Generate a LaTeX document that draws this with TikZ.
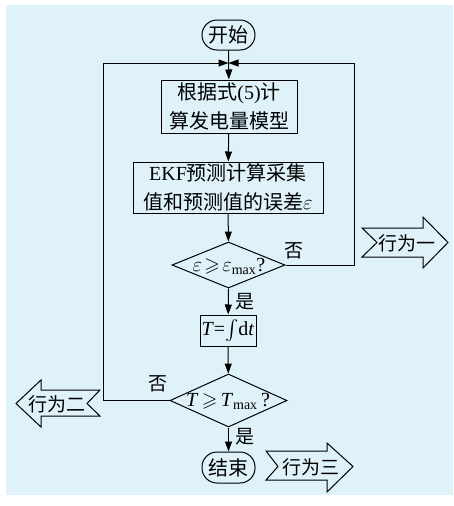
\documentclass[tikz,border=0pt]{standalone}
\usepackage{amssymb}
\usepackage{fontspec}
\setmainfont{Liberation Serif}
\newfontfamily\cjk{Noto Sans CJK SC}
\usetikzlibrary{shapes.geometric,arrows.meta}
\definecolor{bgblue}{RGB}{223,242,250}
\tikzset{
  ln/.style={line width=1pt},
  arr/.style={ln,-{Triangle[length=10pt,width=7pt]}},
  proc/.style={draw,ln,fill=bgblue,inner sep=0pt,align=center,font=\fontsize{20}{29}\selectfont},
  term/.style={proc,rounded corners=15pt},
  dia/.style={draw,ln,diamond,inner sep=0pt},
  txt/.style={inner sep=0pt,font=\fontsize{20}{24}\selectfont},
  lab/.style={inner sep=0pt,font=\fontsize{19}{22}\selectfont\cjk},
  blk/.style={draw,line width=1pt,fill=bgblue,line join=miter}
}
\begin{document}
\begin{tikzpicture}[x=1pt,y=-1pt]
\useasboundingbox (0,0) rectangle (453,506);
\fill[white] (0,0) rectangle (453,506);
\fill[bgblue] (6,5) rectangle (453,495);
% nodes
\node[term,minimum width=53pt,minimum height=30pt] (start) at (228.5,35) {\cjk 开始};
\node[proc,minimum width=136pt,minimum height=53pt] (b1) at (229,106.5) {{\cjk 根据式}(5){\cjk 计}\\{\cjk 算发电量模型}};
\node[proc,minimum width=190pt,minimum height=51pt] (b2) at (228,187.5) {EKF{\cjk 预测计算采集}\\{\cjk 值和预测值的误差}$\varepsilon$};
\node[dia,minimum width=113pt,minimum height=46pt] (d1) at (228.5,265) {};
\node[txt] (d1t) at (229,266) {$\varepsilon\!\geqslant\!\varepsilon_{\mathrm{max}}$?};
\node[proc,minimum width=56pt,minimum height=31pt] (b3) at (228,330.5) {\textit{T}=$\int$d\textit{t}};
\node[dia,minimum width=117pt,minimum height=53pt] (d2) at (228.5,400.5) {};
\node[txt] (d2t) at (228,401) {\textit{T}$\,\geqslant\,$\textit{T}$_{\mathrm{max}}$\,?};
\node[term,minimum width=53pt,minimum height=31pt] (end) at (228.5,467.5) {\cjk 结束};
\coordinate (j) at (228.5,63);
\coordinate (r) at (354,265);
\coordinate (l) at (103,400.5);
% connectors
\draw[arr] (start) -- (b1);
\draw[arr] (d1.east) -- (r) |- (j);
\draw[arr] (d2.west) -- (l) |- (j);
\draw[arr] (b1) -- (b2);
\draw[arr] (b2) -- (d1);
\draw[arr] (d1.south) -- (b3);
\draw[arr] (b3) -- (d2);
\draw[arr] (d2.south) -- (end);
% branch labels
\node[lab] (n1) at (294,251) {否};
\node[lab] (y1) at (245,302) {是};
\node[lab] (n2) at (158,384) {否};
\node[lab] (y2) at (245,437) {是};
% block arrows
\draw[blk] (362,228) -- (423,228) -- (423,217) -- (448,242.5) -- (423,268) -- (423,257) -- (362,257) -- (377,242.5) -- cycle;
\node[lab] (a1) at (407,243) {行为一};
\draw[blk] (16,403.5) -- (41,380) -- (41,390) -- (100,390) -- (87,403.5) -- (100,416) -- (41,416) -- (41,427) -- cycle;
\node[lab] (a2) at (57,404) {行为二};
\draw[blk] (266,451) -- (327,451) -- (327,443) -- (353,466.5) -- (327,492) -- (327,480) -- (266,480) -- (278,466.5) -- cycle;
\node[lab] (a3) at (311,467) {行为三};
\end{tikzpicture}
\end{document}
